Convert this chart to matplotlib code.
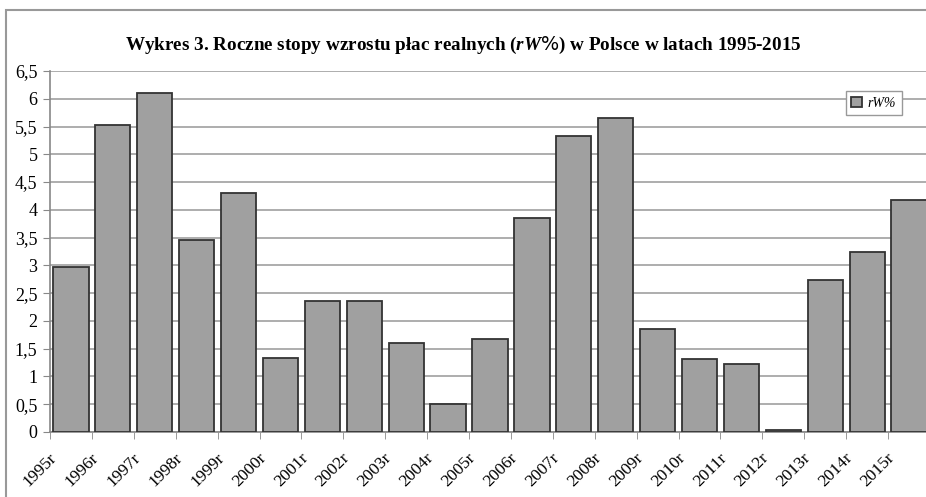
import matplotlib
matplotlib.use("Agg")
import matplotlib.pyplot as plt
import matplotlib.transforms as mtransforms
from matplotlib.patches import Rectangle
from matplotlib.ticker import FuncFormatter, MultipleLocator, FixedLocator

# Data
years = [f"{y}r" for y in range(1995, 2016)]
rw_values = [2.97, 5.53, 6.10, 3.46, 4.31, 1.34, 2.36, 2.36, 1.60, 0.50, 1.68,
             3.85, 5.33, 5.65, 1.85, 1.32, 1.22, 0.04, 2.73, 3.24, 4.18]

title = "Wykres 3. Roczne stopy wzrostu płac realnych ($\\mathit{rW\\%}$) w Polsce w latach 1995-2015"
legend_label = "rW%"

plt.rcParams['font.family'] = ['Liberation Serif', 'DejaVu Serif']
plt.rcParams['mathtext.fontset'] = 'custom'
plt.rcParams['mathtext.it'] = 'Liberation Serif:italic:bold'

fig = plt.figure(figsize=(9.26, 4.97), dpi=100)
ax = fig.add_axes([50 / 926, 1 - 432 / 497, 880 / 926, 361 / 497])

x = list(range(len(years)))
ax.bar(x, rw_values, width=0.84, color='#a0a0a0', edgecolor='#333333',
       linewidth=1.3, label=legend_label, zorder=3)

ax.set_xlim(-0.5, len(years) - 0.5)
ax.set_ylim(0, 6.5)
ax.yaxis.set_major_locator(MultipleLocator(0.5))
ax.yaxis.set_major_formatter(FuncFormatter(lambda v, p: f"{v:g}".replace('.', ',')))
ax.grid(axis='y', color='#a0a0a0', linewidth=1.2, zorder=0)

ax.set_xticks(x)
ax.set_xticklabels(years, rotation=45, ha='right', fontsize=12.5)
ax.xaxis.set_minor_locator(FixedLocator([i - 0.5 for i in range(len(years) + 1)]))
ax.tick_params(axis='x', which='major', length=0, pad=13)
ax.tick_params(axis='x', which='minor', length=5, color='#888888')
ax.tick_params(axis='y', length=5, color='#888888', labelsize=13, pad=4)
offset = mtransforms.ScaledTranslation(-8 / 72, 0, fig.dpi_scale_trans)
for lbl in ax.get_xticklabels():
    lbl.set_transform(lbl.get_transform() + offset)

for side in ['top', 'right']:
    ax.spines[side].set_visible(False)
ax.spines['left'].set_color('#888888')
ax.spines['bottom'].set_color('#888888')
ax.spines['left'].set_linewidth(1.2)
ax.spines['bottom'].set_linewidth(1.2)

leg = ax.legend(loc='center', bbox_to_anchor=(0.936, 0.911),
                prop={'style': 'italic', 'size': 10}, handlelength=0.8, handleheight=0.8,
                handletextpad=0.4, borderpad=0.4, fancybox=False, framealpha=1,
                edgecolor='#999999')
leg.get_frame().set_linewidth(1.0)

fig.text(0.5, 1 - 45 / 497, title, ha='center', va='center', fontsize=13.8, fontweight='bold')

# outer chart frame (only left and top edges are visible in the crop)
fig.patches.append(Rectangle((6 / 926, -0.2), 1.2, 1.2 - 10 / 497, transform=fig.transFigure,
                             fill=False, edgecolor='#999999', linewidth=1.5, clip_on=False))

fig.savefig("out.png", dpi=100)
